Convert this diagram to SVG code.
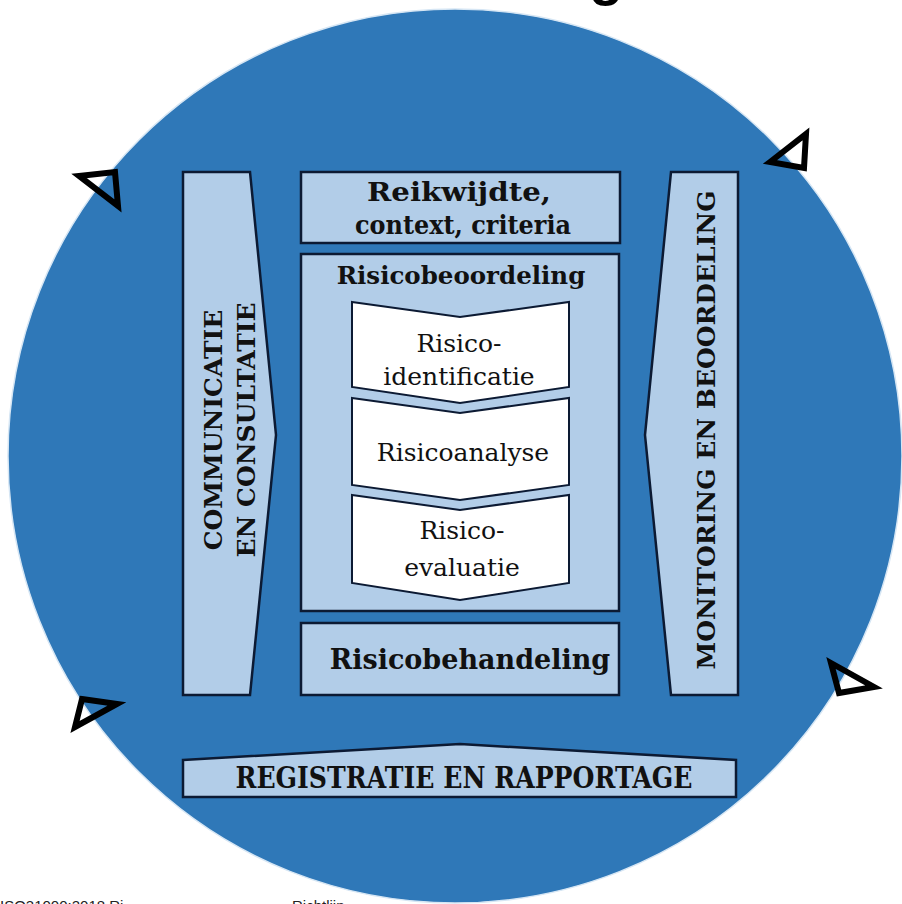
<svg xmlns="http://www.w3.org/2000/svg" width="902" height="904" viewBox="0 0 902 904">
<style>
.box{fill:#b2cde8;stroke:#0c1a33;stroke-width:2.5}
.chev{fill:#ffffff;stroke:#0c1a33;stroke-width:2}
.tri{fill:none;stroke:#000;stroke-width:6;stroke-linejoin:miter}
.b{font-family:"DejaVu Serif","Liberation Serif",serif;font-weight:bold;fill:#111;text-anchor:middle}
.r{font-family:"DejaVu Serif","Liberation Serif",serif;fill:#111;text-anchor:middle}
.foot{font-family:"Liberation Sans",Arial,sans-serif;font-size:15px;fill:#222}
</style>
<rect width="902" height="904" fill="#ffffff"/>
<text x="589" y="-6" style="font-family:'Liberation Sans',sans-serif;font-weight:bold;font-size:56px;fill:#000">g</text>
<circle cx="455" cy="456" r="447" fill="#2f78b8" stroke="#d6e6f4" stroke-width="1.5"/>

<g id="markers">
<polygon class="tri" points="79,176 115,172 118,206"/>
<polygon class="tri" points="770,162 806,134 804,168"/>
<polygon class="tri" points="82,699 117,704 75,727"/>
<polygon class="tri" points="831,663 874,687 839,693"/>
</g>

<g id="communicatie">
<polygon class="box" points="183,172 250,172 276,435 250,695 183,695"/>
<text class="b" transform="translate(230,430) rotate(-90)" font-size="25"><tspan x="0" y="-8">COMMUNICATIE</tspan><tspan x="0" y="25">EN CONSULTATIE</tspan></text>
</g>

<g id="monitoring">
<polygon class="box" points="671,172 738,172 738,695 671,695 645,435"/>
<text class="b" transform="translate(706,430) rotate(-90)" font-size="25" dy="9">MONITORING EN BEOORDELING</text>
</g>

<g id="reikwijdte">
<rect class="box" x="301" y="172" width="319" height="71"/>
<text class="b" x="459" y="201" font-size="26" textLength="184" lengthAdjust="spacingAndGlyphs">Reikwijdte,</text>
<text class="b" x="463" y="234" font-size="26" textLength="216" lengthAdjust="spacingAndGlyphs">context, criteria</text>
</g>

<g id="risicobeoordeling">
<rect class="box" x="301" y="254" width="318" height="357"/>
<text class="b" x="461" y="284" font-size="24.5">Risicobeoordeling</text>
</g>

<g id="identificatie">
<polygon class="chev" points="352,302 460,317 569,302 569,387 460,403 352,387"/>
<text class="r" x="459" y="352" font-size="25">Risico-</text>
<text class="r" x="459" y="385" font-size="25">identificatie</text>
</g>

<g id="analyse">
<polygon class="chev" points="352,398 460,413 569,398 569,485 460,500 352,485"/>
<text class="r" x="463" y="461" font-size="25">Risicoanalyse</text>
</g>

<g id="evaluatie">
<polygon class="chev" points="352,495 460,510 569,495 569,583 460,600 352,583"/>
<text class="r" x="462" y="539" font-size="25">Risico-</text>
<text class="r" x="462" y="576" font-size="25">evaluatie</text>
</g>

<g id="risicobehandeling">
<rect class="box" x="301" y="623" width="318" height="72"/>
<text class="b" x="470" y="669" font-size="27">Risicobehandeling</text>
</g>

<g id="registratie">
<polygon class="box" points="183,760 460,744 736,760 736,797 183,797"/>
<text class="b" x="464" y="788" font-size="30" textLength="457" lengthAdjust="spacingAndGlyphs">REGISTRATIE EN RAPPORTAGE</text>
</g>

<g id="connectors"></g>

<text class="foot" x="0" y="911">ISO31000:2018 Ri</text>
<text class="foot" x="292" y="911">Richtlijn</text>
</svg>
